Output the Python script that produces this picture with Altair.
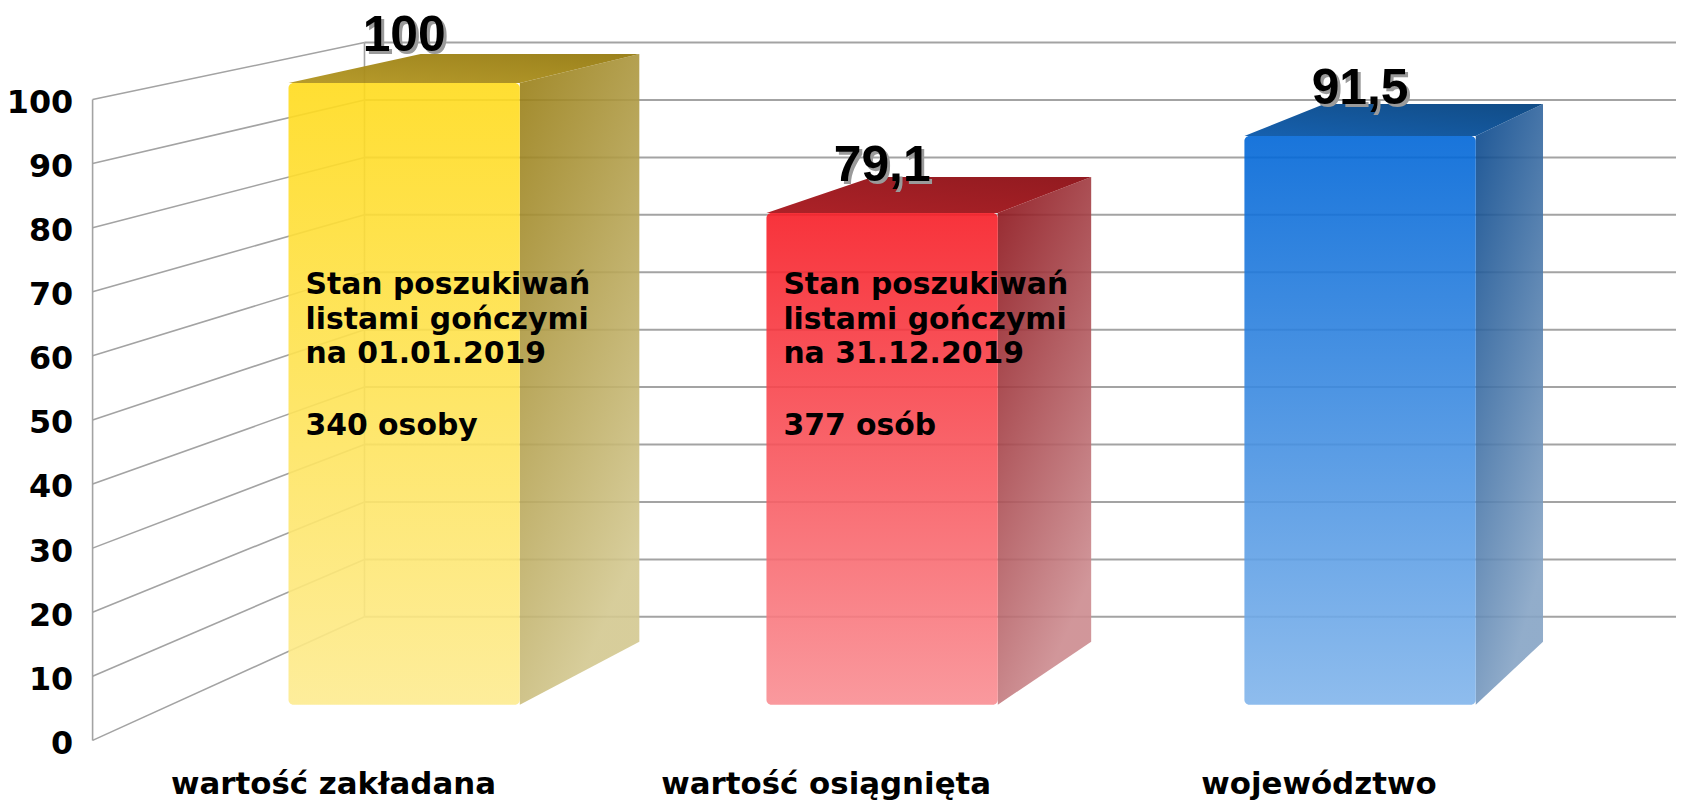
import altair as alt
import pandas as pd

# ---------------- data ----------------
categories = ["wartość zakładana", "wartość osiągnięta", "województwo"]
values = [100, 79.1, 91.5]
value_labels = ["100", "79,1", "91,5"]
note_headers = [
    "Stan poszukiwań\nlistami gończymi\nna 01.01.2019",
    "Stan poszukiwań\nlistami gończymi\nna 31.12.2019",
    "",
]
note_counts = ["340 osoby", "377 osób", ""]
y_ticks = list(range(0, 101, 10))

# colours (top, bottom) per bar
front_colors = [("#FFDB1C", "#FDEB90"), ("#F71D26", "#F98E93"), ("#0066D7", "#82B5EB")]
side_colors = [("#977C12", "#D3C890"), ("#8A0F16", "#CC8B8F"), ("#04448A", "#86A4C5")]
top_colors = [("#B39620", "#957A10"), ("#A8161C", "#8C0E14"), ("#0A58AA", "#04427F")]

# ---------------- 3-D projection (layout) ----------------
UV, VV = 4.818, 185.4          # vanishing point in (category, value) units
C_FRONT, C_BACK, C_WALL = 0.03, 0.083, 0.104
U_AXIS, U_RIGHT, V_TOP = -0.4878, 2.7257, 113.98
HALF = 0.242
NOTE_V = 69.7


def pu(u, c):
    return u + (UV - u) * c


def pv(v, c):
    return v + (VV - v) * c


XS = alt.Scale(domain=[U_AXIS, U_RIGHT], nice=False, zero=False)
YS = alt.Scale(domain=[0, V_TOP], nice=False, zero=False)
label_expr = "[" + ",".join("'" + c + "'" for c in categories) + "][datum.value]"
XAXIS = alt.Axis(values=[0, 1, 2], labelExpr=label_expr, domain=False, ticks=False,
                 grid=False, title=None, labelFont="DejaVu Sans", labelFontWeight="bold",
                 labelFontSize=31, labelPadding=29, labelColor="#000000",
                 labelOverlap=False, labelFlush=False, labelLimit=0)
YAXIS = alt.Axis(values=y_ticks, domain=False, ticks=False, grid=False, title=None,
                 labelFont="DejaVu Sans", labelFontWeight="bold", labelFontSize=32,
                 labelPadding=20, labelColor="#000000", labelOffset=3)


def X(f="u"):
    return alt.X(f"{f}:Q", scale=XS, axis=XAXIS)


def Y(f="v"):
    return alt.Y(f"{f}:Q", scale=YS, axis=YAXIS)


def grad(c1, c2, x1=0, y1=0, x2=0, y2=1):
    return alt.LinearGradient(gradient="linear",
                              stops=[alt.GradientStop(color=c1, offset=0),
                                     alt.GradientStop(color=c2, offset=1)],
                              x1=x1, y1=y1, x2=x2, y2=y2)


GRID = "#A3A3A3"
layers = []

# back wall horizontal grid lines
wall = pd.DataFrame({"u": [pu(U_AXIS, C_WALL)] * len(y_ticks),
                     "u2": [U_RIGHT] * len(y_ticks),
                     "v": [pv(t, C_WALL) for t in y_ticks]})
layers.append(alt.Chart(wall).mark_rule(color=GRID, strokeWidth=2).encode(
    x=X(), x2="u2:Q", y=Y()))

# left wall diagonal grid lines
diag = pd.DataFrame({"u": [U_AXIS] * len(y_ticks),
                     "u2": [pu(U_AXIS, C_WALL)] * len(y_ticks),
                     "v": y_ticks,
                     "v2": [pv(t, C_WALL) for t in y_ticks]})
layers.append(alt.Chart(diag).mark_rule(color=GRID, strokeWidth=1.6).encode(
    x=X(), x2="u2:Q", y=Y(), y2="v2:Q"))

# vertical edges: front axis and back wall corner
edges = pd.DataFrame({"u": [U_AXIS, pu(U_AXIS, C_WALL)],
                      "v": [0, pv(0, C_WALL)],
                      "v2": [100, pv(100, C_WALL)]})
layers.append(alt.Chart(edges).mark_rule(color=GRID, strokeWidth=1.6).encode(
    x=X(), y=Y(), y2="v2:Q"))

# bars
for i, val in enumerate(values):
    uL, uR = i - HALF, i + HALF
    # side face
    side = pd.DataFrame({"u": [pu(uR, C_FRONT), pu(uR, C_BACK)],
                         "v": [pv(val, C_FRONT), pv(val, C_BACK)],
                         "v2": [pv(0, C_FRONT), pv(0, C_BACK)]})
    layers.append(alt.Chart(side).mark_area(
        orient="vertical", fillOpacity=0.9,
        color=grad(side_colors[i][0], side_colors[i][1], 0, 0, 0.4, 1)).encode(
        x=X(), y=Y(), y2="v2:Q"))
    # top face
    yf, yb = pv(val, C_FRONT), pv(val, C_BACK)
    top = pd.DataFrame({"u": [pu(uL, C_FRONT), pu(uL, C_BACK), pu(uR, C_FRONT), pu(uR, C_BACK)],
                        "v": [yf, yb, yb, yb],
                        "v2": [yf, yf, yf, yb]})
    layers.append(alt.Chart(top).mark_area(
        orient="vertical", fillOpacity=0.95,
        color=grad(top_colors[i][0], top_colors[i][1], 0, 1, 1, 0)).encode(
        x=X(), y=Y(), y2="v2:Q"))
    # front face
    front = pd.DataFrame({"u": [pu(uL, C_FRONT)], "u2": [pu(uR, C_FRONT)],
                          "v": [pv(val, C_FRONT)], "v2": [pv(0, C_FRONT)]})
    layers.append(alt.Chart(front).mark_rect(
        cornerRadius=5, fillOpacity=0.9,
        color=grad(front_colors[i][0], front_colors[i][1])).encode(
        x=X(), x2="u2:Q", y=Y(), y2="v2:Q"))
    # notes inside the bar
    if note_headers[i]:
        nd = pd.DataFrame({"u": [pu(uL, C_FRONT)], "v": [NOTE_V],
                           "t": [note_headers[i]], "c": [note_counts[i]]})
        layers.append(alt.Chart(nd).mark_text(
            align="left", baseline="alphabetic", dx=17, lineBreak="\n", lineHeight=35,
            font="DejaVu Sans", fontWeight="bold", fontSize=30, color="#000000").encode(
            x=X(), y=Y(), text="t:N"))
        layers.append(alt.Chart(nd).mark_text(
            align="left", baseline="alphabetic", dx=17, dy=142,
            font="DejaVu Sans", fontWeight="bold", fontSize=30, color="#000000").encode(
            x=X(), y=Y(), text="c:N"))
    # value label with shadow
    ld = pd.DataFrame({"u": [pu(i, C_FRONT)], "v": [pv(val, C_FRONT)], "t": [value_labels[i]]})
    layers.append(alt.Chart(ld).mark_text(
        align="center", baseline="alphabetic", dx=3, dy=-29, font="Liberation Sans",
        fontWeight="bold", fontSize=50, color="#9A9A9A").encode(
        x=X(), y=Y(), text="t:N"))
    layers.append(alt.Chart(ld).mark_text(
        align="center", baseline="alphabetic", dy=-32, font="Liberation Sans",
        fontWeight="bold", fontSize=50, color="#000000").encode(
        x=X(), y=Y(), text="t:N"))

chart = alt.layer(*layers).properties(
    width=1591, height=734,
    autosize=alt.AutoSizeParams(type="none"),
    padding={"left": 85, "top": 0, "right": 0, "bottom": 61},
    background="white",
).configure_view(stroke=None)

chart.save("out.html", embed_options={"renderer": "svg", "actions": False})
